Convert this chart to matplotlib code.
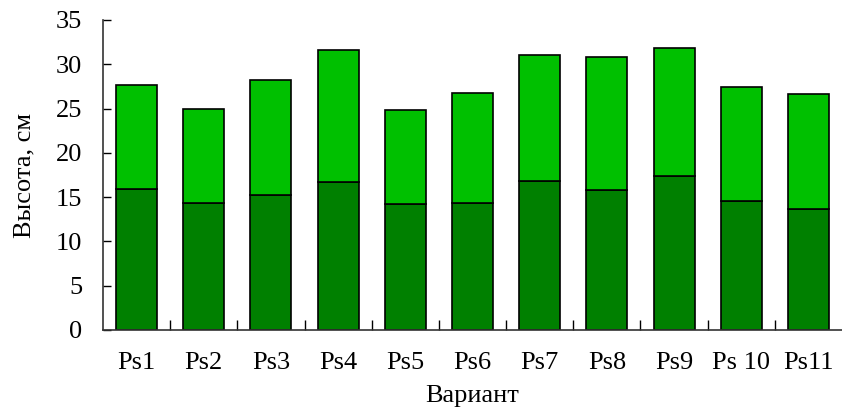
import matplotlib
matplotlib.use("Agg")
import matplotlib.pyplot as plt
import numpy as np

categories = ["Ps1", "Ps2", "Ps3", "Ps4", "Ps5", "Ps6", "Ps7", "Ps8", "Ps9", "Ps 10", "Ps11"]
lower = [15.9, 14.3, 15.2, 16.7, 14.2, 14.3, 16.85, 15.8, 17.4, 14.6, 13.7]
total = [27.65, 25.0, 28.25, 31.6, 24.8, 26.8, 31.0, 30.8, 31.8, 27.45, 26.65]
upper = [t - l for t, l in zip(total, lower)]
yticks = [0, 5, 10, 15, 20, 25, 30, 35]

plt.rcParams['font.family'] = ['Liberation Serif', 'DejaVu Serif']

fig = plt.figure(figsize=(8.42, 4.08), dpi=100)
ax = fig.add_axes([103/842, 78/408, 739/842, 310/408])

x = np.arange(len(categories))
w = 0.61
ax.bar(x, lower, width=w, color="#008000", edgecolor="black", linewidth=1.2, zorder=2)
ax.bar(x, upper, width=w, bottom=lower, color="#00C000", edgecolor="black", linewidth=1.2, zorder=2)

ax.set_xlim(-0.5, len(categories) - 0.5)
ax.set_ylim(0, 35)
ax.set_yticks(yticks)
ax.set_yticklabels([str(v) for v in yticks], fontsize=19)
ax.tick_params(axis='y', direction='in', length=6, width=1, pad=15)

ax.set_xticks(x)
ax.set_xticklabels(categories, fontsize=19)
ax.tick_params(axis='x', which='major', length=0, pad=16)
ax.set_xticks(np.arange(0.5, len(categories) - 0.5, 1), minor=True)
ax.tick_params(axis='x', which='minor', direction='in', length=7, width=1)

for s in ['top', 'right']:
    ax.spines[s].set_visible(False)
for s in ['left', 'bottom']:
    ax.spines[s].set_linewidth(1.2)
    ax.spines[s].set_color('#333333')

ax.set_ylabel("Высота, см", fontsize=19, labelpad=15)
ax.set_xlabel("Вариант", fontsize=19, labelpad=8)

fig.savefig("out.png", dpi=100)
